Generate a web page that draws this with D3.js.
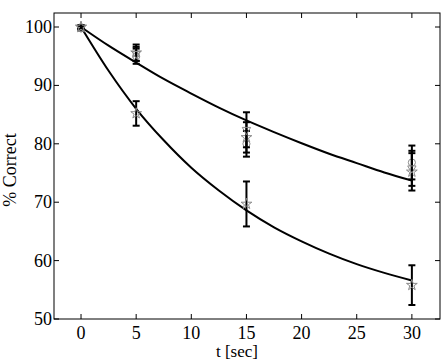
<!DOCTYPE html>
<html>
<head>
<meta charset="utf-8">
<script src="https://cdn.jsdelivr.net/npm/d3@7"></script>
<style>
  body { margin: 0; background: #fff; }
</style>
</head>
<body>
<div id="chart"></div>
<script>
// time points and tick labels
const times = [0, 5, 15, 30];
const xTicks = [0, 5, 10, 15, 20, 25, 30];
const yTicks = [50, 60, 70, 80, 90, 100];

// upper group of conditions (markers + error bars)
const upperCircle = [99.8, 95.0, 80.0, 76.8];
const upperCircleErr = [0.4, 1.3, 2.2, 2.9];
const upperStar = [100.0, 95.6, 81.1, 75.2];
const upperStarErr = [0.3, 1.4, 2.6, 3.2];
const upperTri = [99.9, 95.4, 82.4, 75.8];
const upperTriErr = [0.3, 1.2, 3.0, 3.0];

// lower condition
const lowerStar = [100.0, 85.2, 69.7, 55.8];
const lowerStarErr = [0.3, 2.1, 3.85, 3.4];

// fitted curves
const fitT = [0, 2.5, 5, 7.5, 10, 12.5, 15, 17.5, 20, 22.5, 25, 27.5, 30];
const fitUpper = [100, 96.8, 93.9, 91.1, 88.6, 86.2, 84.0, 82.0, 80.1, 78.3, 76.7, 75.1, 73.7];
const fitLower = [100, 92.5, 86.0, 80.6, 75.9, 72.0, 68.6, 65.7, 63.3, 61.2, 59.4, 57.9, 56.6];

const width = 443, height = 360;
const margin = {left: 54, right: 3, top: 13, bottom: 41};
const font = "'Liberation Serif', 'Times New Roman', Times, serif";

const svg = d3.select("#chart").append("svg")
  .attr("width", width)
  .attr("height", height)
  .attr("font-family", font);

const x = d3.scaleLinear().domain([-2.45, 32.55]).range([margin.left, width - margin.right]);
const y = d3.scaleLinear().domain([50, 102.4]).range([height - margin.bottom, margin.top]);

const x0 = margin.left, x1 = width - margin.right;
const y0 = height - margin.bottom, y1 = margin.top;

// ticks on all four sides, pointing in
const tickLen = 5;
const ticks = svg.append("g").attr("stroke", "#000").attr("stroke-width", 1);
xTicks.forEach(t => {
  ticks.append("line").attr("x1", x(t)).attr("x2", x(t)).attr("y1", y0).attr("y2", y0 - tickLen);
  ticks.append("line").attr("x1", x(t)).attr("x2", x(t)).attr("y1", y1).attr("y2", y1 + tickLen);
});
yTicks.forEach(v => {
  ticks.append("line").attr("x1", x0).attr("x2", x0 + tickLen).attr("y1", y(v)).attr("y2", y(v));
  ticks.append("line").attr("x1", x1).attr("x2", x1 - tickLen).attr("y1", y(v)).attr("y2", y(v));
});

// tick labels
svg.append("g").selectAll("text")
  .data(xTicks)
  .join("text")
  .attr("x", d => x(d))
  .attr("y", 339)
  .attr("text-anchor", "middle")
  .attr("font-family", font)
  .style("font-size", "18px")
  .text(d => d);

svg.append("g").selectAll("text")
  .data(yTicks)
  .join("text")
  .attr("x", x0 - 2)
  .attr("y", d => y(d) + 6)
  .attr("text-anchor", "end")
  .attr("font-family", font)
  .style("font-size", "18px")
  .text(d => d);

// axis titles
svg.append("text")
  .attr("x", 237)
  .attr("y", 357)
  .attr("text-anchor", "middle")
  .attr("font-family", font)
  .style("font-size", "17px")
  .text("t [sec]");

svg.append("text")
  .attr("transform", `translate(16,${(y0 + y1) / 2 + 4}) rotate(-90)`)
  .attr("text-anchor", "middle")
  .attr("font-family", font)
  .style("font-size", "18px")
  .text("% Correct");

// fitted curves
const line = d3.line()
  .x(d => x(d[0]))
  .y(d => y(d[1]))
  .curve(d3.curveMonotoneX);

[fitUpper, fitLower].forEach(vals => {
  svg.append("path")
    .datum(fitT.map((t, i) => [t, vals[i]]))
    .attr("d", line)
    .attr("fill", "none")
    .attr("stroke", "#000")
    .attr("stroke-width", 2);
});

// series with markers and error bars
const series = [
  {vals: upperCircle, err: upperCircleErr, sym: d3.symbolCircle, size: 40, rot: 0},
  {vals: upperStar, err: upperStarErr, sym: d3.symbolStar, size: 36, rot: 0},
  {vals: upperTri, err: upperTriErr, sym: d3.symbolTriangle, size: 30, rot: 180},
  {vals: lowerStar, err: lowerStarErr, sym: d3.symbolStar, size: 36, rot: 0}
];

const capHalf = 3.5;
series.forEach(s => {
  const g = svg.append("g");
  const pts = times.map((t, i) => ({t: t, v: s.vals[i], e: s.err[i]}));

  // error bars
  const eb = g.append("g").attr("stroke", "#000").attr("stroke-width", 2);
  pts.forEach(p => {
    eb.append("line").attr("x1", x(p.t)).attr("x2", x(p.t))
      .attr("y1", y(p.v + p.e)).attr("y2", y(p.v - p.e));
    eb.append("line").attr("x1", x(p.t) - capHalf).attr("x2", x(p.t) + capHalf)
      .attr("y1", y(p.v + p.e)).attr("y2", y(p.v + p.e));
    eb.append("line").attr("x1", x(p.t) - capHalf).attr("x2", x(p.t) + capHalf)
      .attr("y1", y(p.v - p.e)).attr("y2", y(p.v - p.e));
  });

  // markers
  g.selectAll("path.marker")
    .data(pts)
    .join("path")
    .attr("class", "marker")
    .attr("d", d3.symbol().type(s.sym).size(s.size))
    .attr("transform", d => `translate(${x(d.t)},${y(d.v)}) rotate(${s.rot})`)
    .attr("fill", "none")
    .attr("stroke", "#8a8a8a")
    .attr("stroke-width", 1);
});

// box
svg.append("rect")
  .attr("x", x0)
  .attr("y", y1)
  .attr("width", x1 - x0)
  .attr("height", y0 - y1)
  .attr("fill", "none")
  .attr("stroke", "#000")
  .attr("stroke-width", 1);
</script>
</body>
</html>
